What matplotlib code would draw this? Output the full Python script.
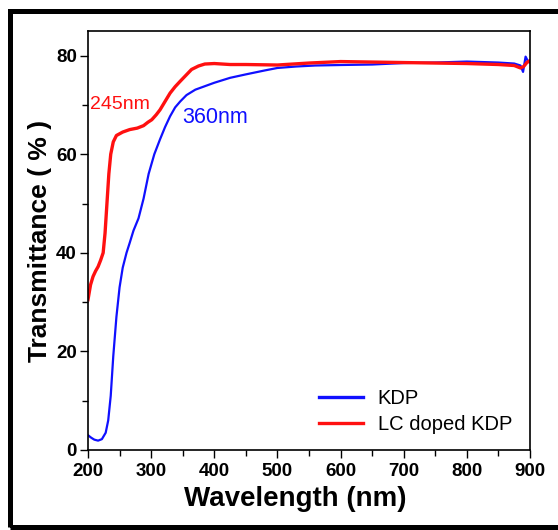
import matplotlib.pyplot as plt
from matplotlib.patches import Rectangle
from matplotlib.ticker import MultipleLocator

wl_kdp = [200, 205, 210, 216, 222, 228, 232, 236, 240, 245, 250, 255, 261, 266,
          272, 280, 288, 296, 305, 314, 322, 330, 338, 346, 356, 370, 385, 400,
          425, 450, 480, 500, 530, 560, 600, 650, 700, 750, 800, 850, 875, 885,
          889, 893, 897, 900]
t_kdp = [3.0, 2.5, 2.1, 1.9, 2.2, 3.5, 6, 11, 19, 27, 33, 37, 40, 42,
         44.5, 47, 51, 56, 60, 63, 65.5, 67.7, 69.5, 70.7, 72, 73.1, 73.8, 74.5,
         75.5, 76.2, 77, 77.5, 77.8, 78, 78.1, 78.2, 78.5, 78.6, 78.8, 78.6, 78.4, 78,
         76.7, 79.8, 78.8, 78.6]

wl_lc = [200, 204, 208, 212, 216, 220, 224, 227, 229, 231, 233, 236, 240, 245,
         255, 266, 278, 288, 295, 301, 308, 314, 322, 330, 338, 346, 355, 364,
         375, 385, 400, 425, 450, 500, 550, 600, 650, 700, 750, 800, 850, 875,
         885, 890, 895, 900]
t_lc = [30.5, 33.5, 35.2, 36.3, 37.2, 38.5, 40, 44, 48, 52, 56, 60, 62.5, 63.8,
        64.5, 65, 65.3, 65.8, 66.5, 67, 68, 69, 70.7, 72.4, 73.7, 74.8, 76, 77.2,
        77.9, 78.3, 78.4, 78.2, 78.2, 78.1, 78.5, 78.8, 78.7, 78.6, 78.5, 78.4, 78.2, 78,
        77.5, 77.8, 78.6, 79]

plt.rcParams['font.family'] = ['Liberation Sans', 'DejaVu Sans']

fig = plt.figure(figsize=(5.58, 5.30), dpi=100)
ax = fig.add_axes([88 / 558, 80 / 530, 442 / 558, 419 / 530])

ax.plot(wl_kdp, t_kdp, color='#1010ff', lw=1.6, label='KDP')
ax.plot(wl_lc, t_lc, color='#ff1010', lw=2.4, label='LC doped KDP')

ax.set_xlim(200, 900)
ax.set_ylim(0, 85)
ax.xaxis.set_major_locator(MultipleLocator(100))
ax.xaxis.set_minor_locator(MultipleLocator(50))
ax.yaxis.set_major_locator(MultipleLocator(20))
ax.yaxis.set_minor_locator(MultipleLocator(10))
ax.tick_params(which='major', direction='out', length=6, width=1, labelsize=13.5, pad=2)
ax.tick_params(which='minor', direction='out', length=4, width=1)
ax.tick_params(axis='x', pad=3)
for lab in ax.get_xticklabels() + ax.get_yticklabels():
    lab.set_fontweight('bold')
for s in ax.spines.values():
    s.set_linewidth(1.2)

ax.set_xlabel('Wavelength (nm)', fontsize=20, fontweight='bold')
ax.xaxis.set_label_coords(0.47, -0.085)
ax.set_ylabel('Transmittance ( % )', fontsize=19, fontweight='bold', labelpad=3)

ax.text(203, 70, '245nm', color='#ff1010', fontsize=14, va='center', ha='left')
ax.text(349, 67.4, '360nm', color='#1010ff', fontsize=15.5, va='center', ha='left')

leg = ax.legend(loc='lower right', bbox_to_anchor=(1.0, -0.005), frameon=False,
                fontsize=14.5, handlelength=2.2, handletextpad=0.7, labelspacing=0.35)
for h in leg.get_lines():
    h.set_linewidth(2.4)

fig.patches.append(Rectangle((10 / 558, 3 / 530), 1.0, 516 / 530,
                             transform=fig.transFigure, fill=False,
                             edgecolor='black', lw=3.6))

fig.savefig('out.png', dpi=100)
